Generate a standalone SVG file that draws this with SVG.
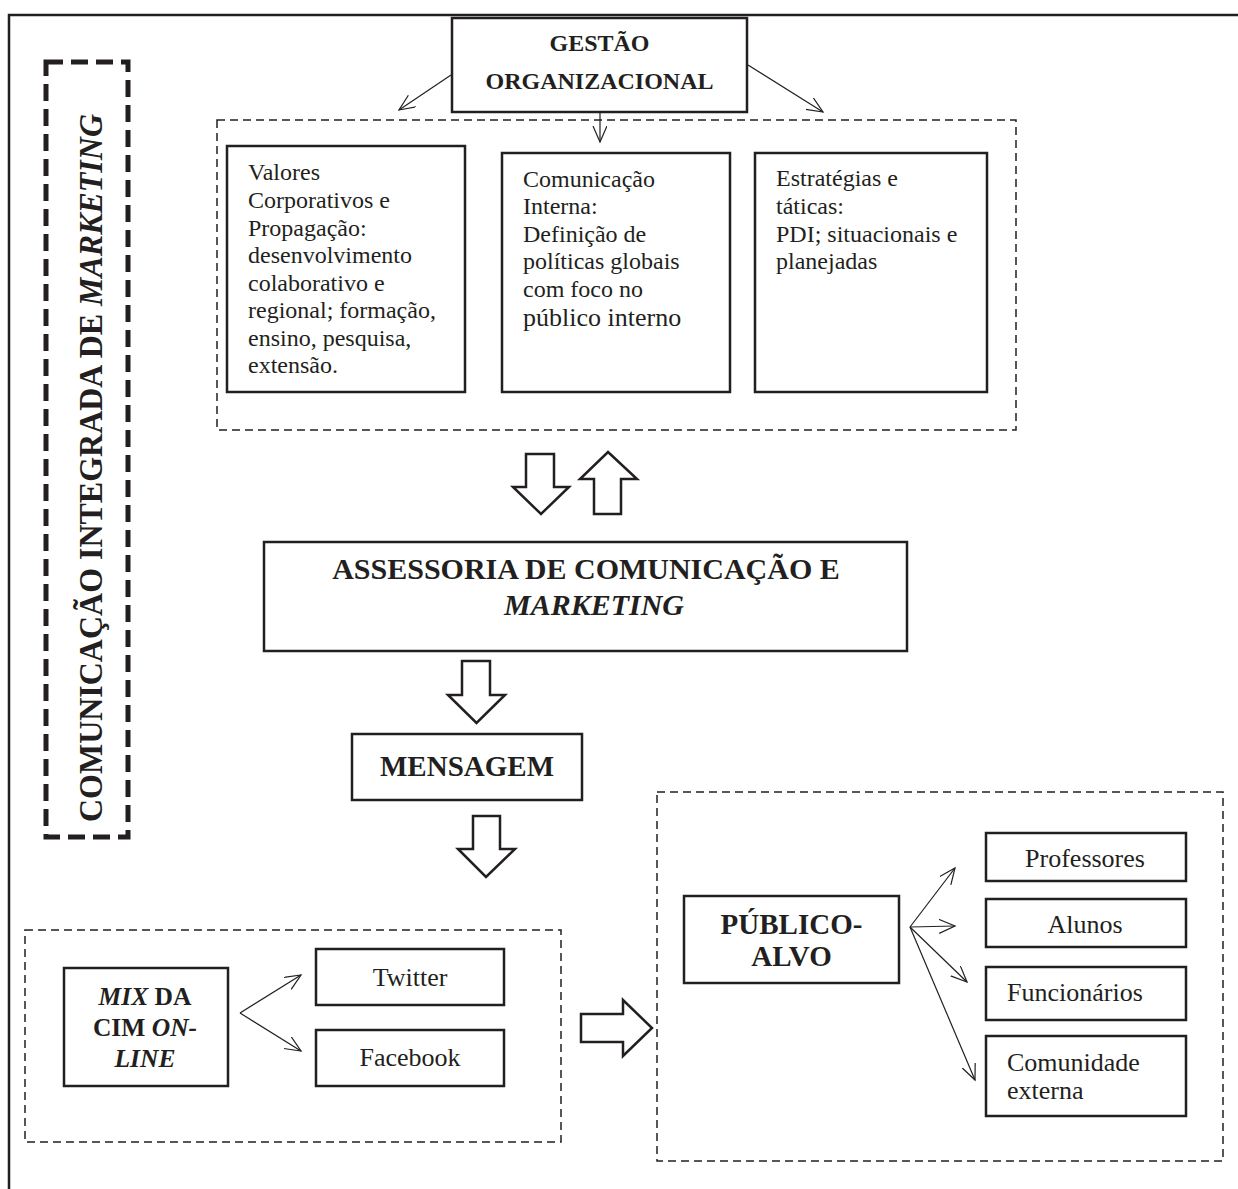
<svg xmlns="http://www.w3.org/2000/svg" width="1238" height="1189" viewBox="0 0 1238 1189">
<defs>
<style>
.t{font-family:"Liberation Serif","Times New Roman",serif;fill:#231f20}
.b{font-weight:bold}
.i{font-style:italic}
.m{text-anchor:middle}
.box{fill:#fff;stroke:#231f20;stroke-width:2.5}
.dash{fill:none;stroke:#231f20;stroke-width:1.5;stroke-dasharray:8 5}
.ln{fill:none;stroke:#231f20;stroke-width:1.2}
.blk{fill:#fff;stroke:#231f20;stroke-width:2.5;stroke-linejoin:miter}
</style>
<marker id="ah" markerWidth="18" markerHeight="16" refX="16" refY="7" orient="auto" markerUnits="userSpaceOnUse">
<path d="M0,0 L16,7 L0,14" fill="none" stroke="#231f20" stroke-width="1.2"/>
</marker>
</defs>
<rect width="1238" height="1189" fill="#fff"/>
<path d="M9,1189 V15 H1238" fill="none" stroke="#231f20" stroke-width="2.5"/>

<g id="cim-vertical">
<rect x="46" y="62" width="82" height="775" fill="none" stroke="#231f20" stroke-width="5" stroke-dasharray="17 8"/>
<text class="t b m" font-size="33" textLength="708" lengthAdjust="spacingAndGlyphs" transform="translate(102,468) rotate(-90)">COMUNICAÇÃO INTEGRADA DE <tspan class="i">MARKETING</tspan></text>
</g>

<g id="gestao">
<rect class="box" x="452" y="18" width="295" height="94"/>
<text class="t b m" font-size="24" x="599.5" y="51">GESTÃO</text>
<text class="t b m" font-size="24" x="599.5" y="89">ORGANIZACIONAL</text>
</g>

<g id="gestao-group">
<rect class="dash" x="217" y="120" width="799" height="310"/>
</g>

<g id="valores">
<rect class="box" x="227" y="146" width="238" height="246"/>
<g class="t" font-size="24">
<text x="248" y="180">Valores</text>
<text x="248" y="208">Corporativos e</text>
<text x="248" y="236">Propagação:</text>
<text x="248" y="263">desenvolvimento</text>
<text x="248" y="291">colaborativo e</text>
<text x="248" y="318">regional; formação,</text>
<text x="248" y="346">ensino, pesquisa,</text>
<text x="248" y="373">extensão.</text>
</g>
</g>

<g id="comunicacao-interna">
<rect class="box" x="502" y="153" width="228" height="239"/>
<g class="t" font-size="24">
<text x="523" y="187">Comunicação</text>
<text x="523" y="214">Interna:</text>
<text x="523" y="242">Definição de</text>
<text x="523" y="269">políticas globais</text>
<text x="523" y="297">com foco no</text>
<text x="523" y="326" font-size="26">público interno</text>
</g>
</g>

<g id="estrategias">
<rect class="box" x="755" y="153" width="232" height="239"/>
<g class="t" font-size="24">
<text x="776" y="186">Estratégias e</text>
<text x="776" y="214">táticas:</text>
<text x="776" y="242">PDI; situacionais e</text>
<text x="776" y="269">planejadas</text>
</g>
</g>

<g id="assessoria">
<rect class="box" x="264" y="542" width="643" height="109"/>
<text class="t b m" font-size="30" x="586" y="579">ASSESSORIA DE COMUNICAÇÃO E</text>
<text class="t b i m" font-size="30" x="594" y="615">MARKETING</text>
</g>

<g id="mensagem">
<rect class="box" x="352" y="734" width="230" height="66"/>
<text class="t b m" font-size="29" x="467" y="776">MENSAGEM</text>
</g>

<g id="mix-group">
<rect class="dash" x="25" y="930" width="536" height="212"/>
</g>

<g id="mix">
<rect class="box" x="64" y="968" width="164" height="118"/>
<text class="t b m" font-size="25.5" x="145" y="1005"><tspan class="i">MIX</tspan> DA</text>
<text class="t b m" font-size="25.5" x="145" y="1036">CIM <tspan class="i">ON-</tspan></text>
<text class="t b i m" font-size="25.5" x="145" y="1067">LINE</text>
</g>

<g id="twitter">
<rect class="box" x="316" y="949" width="188" height="56"/>
<text class="t m" font-size="26" x="410" y="986">Twitter</text>
</g>

<g id="facebook">
<rect class="box" x="316" y="1030" width="188" height="56"/>
<text class="t m" font-size="26" x="410" y="1066">Facebook</text>
</g>

<g id="publico-group">
<rect class="dash" x="657" y="792" width="566" height="369"/>
</g>

<g id="publico-alvo">
<rect class="box" x="684" y="896" width="215" height="87"/>
<text class="t b m" font-size="29" x="791.5" y="934">PÚBLICO-</text>
<text class="t b m" font-size="29" x="791.5" y="966">ALVO</text>
</g>

<g id="professores">
<rect class="box" x="986" y="833" width="200" height="48"/>
<text class="t m" font-size="26" x="1085" y="867">Professores</text>
</g>

<g id="alunos">
<rect class="box" x="986" y="899" width="200" height="48"/>
<text class="t m" font-size="26" x="1085" y="933">Alunos</text>
</g>

<g id="funcionarios">
<rect class="box" x="986" y="967" width="200" height="53"/>
<text class="t" font-size="26" x="1007" y="1001">Funcionários</text>
</g>

<g id="comunidade">
<rect class="box" x="986" y="1036" width="200" height="80"/>
<text class="t" font-size="26" x="1007" y="1071">Comunidade</text>
<text class="t" font-size="26" x="1007" y="1099">externa</text>
</g>

<g id="connectors">
<line class="ln" x1="451" y1="75" x2="399" y2="110" marker-end="url(#ah)"/>
<line class="ln" x1="600" y1="112" x2="600" y2="142" marker-end="url(#ah)"/>
<line class="ln" x1="748" y1="65" x2="823" y2="112" marker-end="url(#ah)"/>
<line class="ln" x1="240" y1="1013" x2="301" y2="975" marker-end="url(#ah)"/>
<line class="ln" x1="240" y1="1013" x2="301" y2="1051" marker-end="url(#ah)"/>
<line class="ln" x1="910" y1="927" x2="955" y2="868" marker-end="url(#ah)"/>
<line class="ln" x1="910" y1="927" x2="955" y2="926" marker-end="url(#ah)"/>
<line class="ln" x1="910" y1="927" x2="967" y2="982" marker-end="url(#ah)"/>
<line class="ln" x1="910" y1="927" x2="975" y2="1080" marker-end="url(#ah)"/>
<path class="blk" d="M526,454 H554 V487 H569 L541,514 L513,487 H526 Z"/>
<path class="blk" d="M608,452 L637,479 H621 V514 H594 V479 H580 Z"/>
<path class="blk" d="M462,661 H490 V695 H505 L476.5,723 L448,695 H462 Z"/>
<path class="blk" d="M473,816 H500 V849 H515 L486,877 L458,849 H473 Z"/>
<path class="blk" d="M581,1014 H623 V1000 L652,1028 L623,1056 V1042 H581 Z"/>
</g>
</svg>
